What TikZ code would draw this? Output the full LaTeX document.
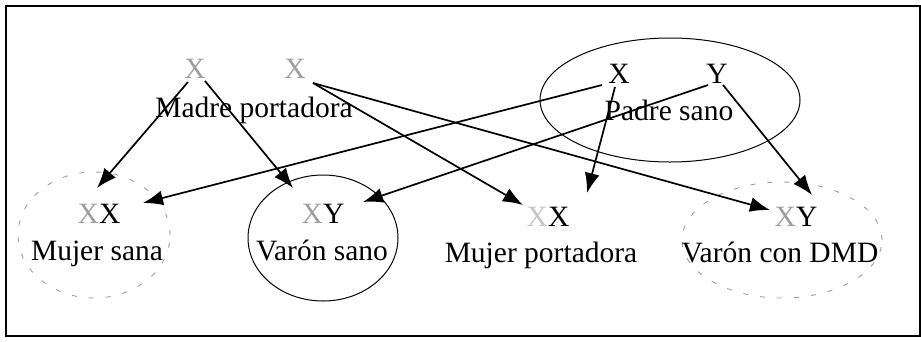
\documentclass[tikz,border=0pt]{standalone}
\usepackage{fontspec}
\setmainfont{Liberation Serif}
\usetikzlibrary{arrows.meta}
\definecolor{faded}{gray}{0.62}
\begin{document}
\begin{tikzpicture}[x=1pt,y=-1pt,
  txt/.style={font=\fontsize{29.5}{32}\selectfont, inner sep=0pt, anchor=base},
  gl/.style={txt, text=faded},
  arr/.style={line width=1.7pt, -{Latex[length=20pt,width=15pt]}},
  dashell/.style={draw=faded, line width=0.9pt, dash pattern=on 5pt off 12pt},
  solell/.style={draw, line width=1pt}]
\useasboundingbox (0,0) rectangle (921,341);
\draw[line width=1.6pt] (6,6) rectangle (920,336);
% ellipses
\draw[solell] (670,100) ellipse [x radius=130pt, y radius=62pt];
\draw[dashell] (94,235) ellipse [x radius=76pt, y radius=63pt];
\draw[solell] (323,238) ellipse [x radius=75pt, y radius=63pt];
\draw[dashell] (782,240) ellipse [x radius=100pt, y radius=58pt];
% parents
\node[gl] (mX1) at (195,78) {X};
\node[gl] (mX2) at (295,78) {X};
\node[txt] (madre) at (254,117) {Madre portadora};
\node[txt] (fX) at (619,83) {X};
\node[txt] (fY) at (717,83) {Y};
\node[txt] (padre) at (669,120) {Padre sano};
% children
\node[txt] (g1) at (99,223) {\textcolor{faded}{X}X};
\node[txt] (g2) at (323,223) {\textcolor{faded}{X}Y};
\node[txt] (g3) at (548,226) {\textcolor{faded!60}{X}X};
\node[txt] (g4) at (796,226) {\textcolor{faded}{X}Y};
\node[txt] (l1) at (97,260) {Mujer sana};
\node[txt] (l2) at (322,260) {Varón sano};
\node[txt] (l3) at (541,262) {Mujer portadora};
\node[txt] (l4) at (780,262) {Varón con DMD};
% arrow end points
\coordinate (m1a) at (188,82);
\coordinate (m1b) at (205,81);
\coordinate (m2a) at (313,83);
\coordinate (fXa) at (602,85);
\coordinate (fXb) at (615,87);
\coordinate (fYa) at (708,85);
\coordinate (fYb) at (723,85);
\coordinate (t1) at (97,188);
\coordinate (t2) at (293,188);
\coordinate (t3) at (523,205);
\coordinate (t4) at (770,210);
\coordinate (t5) at (143,203);
\coordinate (t6) at (363,202);
\coordinate (t7) at (587,193);
\coordinate (t8) at (812,195);
% arrows
\draw[arr] (m1a) -- (t1);
\draw[arr] (m1b) -- (t2);
\draw[arr] (m2a) -- (t3);
\draw[arr] (m2a) -- (t4);
\draw[arr] (fXa) -- (t5);
\draw[arr] (fYa) -- (t6);
\draw[arr] (fXb) -- (t7);
\draw[arr] (fYb) -- (t8);
\end{tikzpicture}
\end{document}
